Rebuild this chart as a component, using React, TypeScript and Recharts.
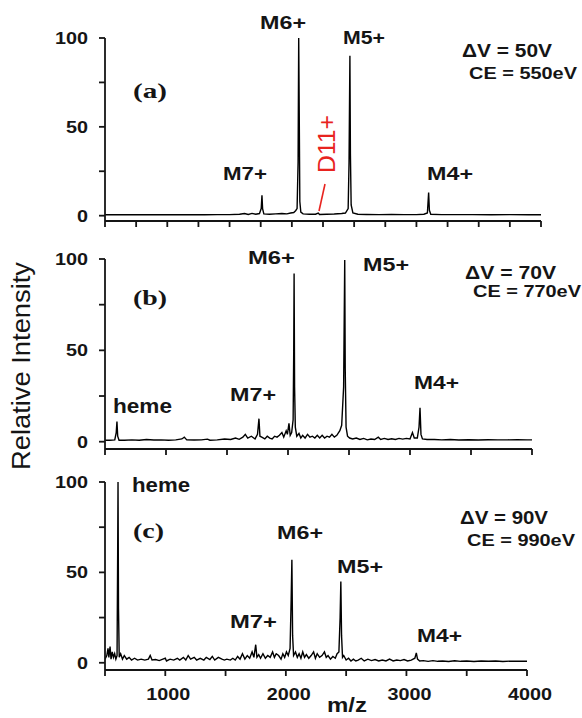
import React from 'react';
import { LineChart, Line, XAxis, YAxis } from 'recharts';

// ---------- Data ----------
const mzA = [500,560,620,700,800,900,1000,1100,1200,1300,1400,1500,1580,1620,1650,1680,1710,1740,1754,1760,1765,1775,1820,1870,1920,1960,1990,2015,2030,2042,2050,2055,2059,2064,2072,2090,2140,2190,2212,2222,2280,2340,2400,2430,2452,2459,2466,2470,2476,2490,2530,2600,2700,2800,2900,3000,3060,3088,3098,3104,3115,3200,3300,3450,3600,3750,3900,4000];
const intA = [0.5,0.5,0.6,0.5,0.6,0.5,0.6,0.5,0.6,0.5,0.6,0.6,0.8,1.2,0.7,1.3,0.8,1.2,4,11.5,4,1.0,0.8,1.0,1.2,1.0,1.5,1.8,2.8,4,30,100,60,8,2,1.0,0.8,0.8,1.5,0.7,0.8,0.9,1.2,1.5,4,30,90,35,6,1.5,0.8,0.7,0.6,0.7,0.6,0.6,0.8,1.5,13,3,0.8,0.6,0.6,0.6,0.5,0.6,0.5,0.5];

const mzB = [500,540,580,592,598,604,615,660,720,780,840,900,960,1020,1080,1130,1150,1170,1230,1290,1340,1360,1420,1480,1530,1570,1600,1630,1650,1670,1700,1730,1750,1762,1770,1785,1810,1830,1850,1870,1890,1910,1930,1950,1965,1985,1995,2008,2018,2030,2042,2047,2050,2054,2060,2072,2090,2105,2120,2140,2160,2180,2200,2220,2240,2260,2280,2300,2320,2340,2360,2380,2400,2425,2440,2456,2465,2469,2476,2488,2505,2530,2560,2590,2620,2650,2680,2710,2740,2760,2790,2820,2850,2880,2910,2940,2970,3000,3020,3035,3060,3074,3082,3090,3102,3140,3200,3260,3330,3400,3480,3560,3640,3720,3800,3880,3960,4000];
const intB = [0.8,0.8,1.0,5,11,3,0.8,0.8,1.0,0.8,1.2,0.9,1.0,0.8,1.0,1.5,2.5,1.0,0.9,1.0,1.4,0.8,1.0,1.5,1.2,2,1.3,2.5,4,2,3,1.5,4,12.6,3,2.5,1.5,3,2,1.5,3,2.5,3.5,5,2.5,6,4,10,3.5,5,12,50,92,30,8,3,4.5,2,3.5,2,4,2.5,3,2,3.5,2,3.5,2,3,2.5,4,2.5,3.5,6,9,30,99.5,40,8,3,2,1.5,2,1.2,1.8,1.0,1.5,1.2,2.5,1.2,1.8,1.2,1.6,1.2,1.8,1.4,1.8,1.5,5,2,2,8,18.6,4,1.5,1.2,1.2,1.0,1.2,0.9,1.1,0.9,1.1,1.0,1.0,1.1,1.0,1.0];

const mzC = [500,515,525,532,542,550,560,570,580,590,600,605,608,612,618,630,645,660,680,700,720,745,770,800,830,860,875,890,920,950,980,1000,1010,1040,1070,1100,1120,1150,1170,1190,1210,1240,1260,1290,1320,1340,1370,1390,1410,1440,1470,1490,1510,1540,1560,1580,1600,1620,1640,1660,1680,1700,1720,1735,1750,1760,1775,1790,1810,1830,1850,1870,1890,1905,1920,1940,1960,1975,1990,2005,2020,2035,2044,2050,2056,2064,2080,2095,2110,2125,2140,2155,2170,2190,2210,2230,2245,2260,2280,2300,2320,2335,2350,2370,2390,2410,2425,2440,2450,2456,2462,2470,2480,2500,2520,2540,2560,2580,2600,2625,2650,2680,2710,2740,2770,2800,2830,2860,2890,2920,2950,2980,3010,3040,3070,3082,3092,3110,3140,3180,3220,3260,3300,3350,3400,3450,3500,3560,3620,3680,3740,3800,3860,3920,3970,4000];
const intC = [2,4,8,3,9,2,6,3,5,2,4,60,100,30,3,5,2,4,2,3,1.5,2.5,1.5,2,1.5,2,4,1.5,1.8,1.2,2,2.5,1,2,1.5,2.5,1.5,3,1.5,4,2,3,1.5,2.5,1.5,3,1.8,3.5,1.5,3,2,1.5,2,1.5,2.5,1.5,3.5,2,5,2,4,2.5,6,3,10,3,4.5,2.5,5,2.5,4,3,6,3,5,4,2,5,3,6,4,8,35,57,15,4,6,3,5,2.5,6,3,4.5,2.5,4,6,2.5,5,3,4,6,3,4,2,3.5,2.5,5,6,25,45,15,3,4,1.5,2.5,1,2,1,1.5,2.5,1,2,1.2,1.8,1,1.5,1,2,1,1.5,1.2,1.8,1,1.5,2.5,5.5,2,1,1.2,0.8,1.2,0.8,1,0.7,1.1,0.8,1,0.7,1,0.8,1,0.7,0.9,0.8,0.9,0.8];

const yTicks = [0, 25, 50, 75, 100];
const yLabels = [0, 50, 100];
const xTicksA = [500,750,1000,1250,1500,1750,2000,2250,2500,2750,3000,3250,3500,3750,4000];
const xTicksBC = [500,1000,1500,2000,2500,3000,3500,4000];
const xLabelsC = [1000, 2000, 3000, 4000];

const SANS = "'Liberation Sans', Arial, Helvetica, sans-serif";
const SERIF = "'Liberation Serif', 'Times New Roman', serif";
const INK = '#151515';

const TICK = 6;      // tick mark length
const Y_GAP = 11;    // gap between y tick mark and label
const X_GAP = 12;    // gap between x tick mark and label

const build = (mz: number[], v: number[]) => mz.map((m, i) => ({ mz: m, v: v[i] }));

const YTick = (props: any) => {
  const { x, y, payload } = props;
  const val = payload.value;
  const s = String(val);
  return (
    <g>
      <line x1={x + Y_GAP} y1={y} x2={x + Y_GAP + TICK} y2={y} stroke={INK} strokeWidth={1.8} />
      {yLabels.includes(val) && (
        <text x={x} y={y} dy="0.36em" textAnchor="end" fontFamily={SANS} fontWeight="bold" fontSize={16.5}
          fill={INK} textLength={s.length * 11} lengthAdjust="spacingAndGlyphs">{s}</text>
      )}
    </g>
  );
};

const makeXTick = (labels: boolean) => (props: any) => {
  const { x, y, payload } = props;
  const val = payload.value;
  const s = String(val);
  return (
    <g>
      <line x1={x} y1={y - X_GAP - TICK} x2={x} y2={y - X_GAP} stroke={INK} strokeWidth={1.8} />
      {labels && xLabelsC.includes(val) && (
        <text x={x + 3} y={y} dy="0.71em" textAnchor="middle" fontFamily={SANS} fontWeight="bold" fontSize={16.5}
          fill={INK} textLength={s.length * 11} lengthAdjust="spacingAndGlyphs">{s}</text>
      )}
    </g>
  );
};

type PanelProps = {
  mz: number[]; v: number[]; top: number; height: number; marginTop: number; right: number;
  yMin: number; xTicks: number[]; xAxisHeight: number; labels: boolean;
};

const Panel = ({ mz, v, top, height, marginTop, right, yMin, xTicks, xAxisHeight, labels }: PanelProps) => (
  <div style={{ position: 'absolute', left: 0, top, width: 582, height }}>
    <LineChart width={582} height={height} data={build(mz, v)}
      margin={{ top: marginTop, right, left: 0, bottom: 0 }}>
      <XAxis dataKey="mz" type="number" domain={[500, 4000]} ticks={xTicks} interval={0}
        height={xAxisHeight} tickSize={TICK} tickMargin={X_GAP}
        axisLine={{ stroke: INK, strokeWidth: 1.8 }} tickLine={false}
        tick={makeXTick(labels)} allowDataOverflow />
      <YAxis type="number" domain={[yMin, 100]} ticks={yTicks} interval={0} width={105}
        tickSize={TICK} tickMargin={Y_GAP}
        axisLine={{ stroke: INK, strokeWidth: 1.8 }} tickLine={false}
        tick={YTick} allowDataOverflow />
      <Line type="linear" dataKey="v" stroke="#000" strokeWidth={1.4} dot={false}
        isAnimationActive={false} />
    </LineChart>
  </div>
);

const T = ({ x, y, w, size = 19, children, serif = false, weight = 'bold', anchor = 'start' }: any) => (
  <text x={x} y={y} fontFamily={serif ? SERIF : SANS} fontWeight={weight} fontSize={size} fill={INK}
    textAnchor={anchor} textLength={w} lengthAdjust="spacingAndGlyphs">{children}</text>
);

export default function App() {
  return (
    <div style={{ position: 'absolute', left: 0, top: 0, width: 582, height: 718, background: '#fff', overflow: 'hidden' }}>
      <Panel mz={mzA} v={intA} top={0} height={230} marginTop={38} right={41} yMin={-3}
        xTicks={xTicksA} xAxisHeight={9} labels={false} />
      <Panel mz={mzB} v={intB} top={230} height={228} marginTop={29} right={50} yMin={-4}
        xTicks={xTicksBC} xAxisHeight={9} labels={false} />
      <Panel mz={mzC} v={intC} top={458} height={260} marginTop={24} right={55} yMin={-4}
        xTicks={xTicksBC} xAxisHeight={48} labels={true} />
      <svg width={582} height={718} style={{ position: 'absolute', left: 0, top: 0, pointerEvents: 'none' }}>
        {/* axis titles */}
        <text transform="translate(30,366) rotate(-90)" textAnchor="middle" fontFamily={SANS} fontSize={26}
          fill={INK} textLength={208} lengthAdjust="spacingAndGlyphs">Relative Intensity</text>
        <T x={347} y={712} w={40} size={20} anchor="middle">m/z</T>

        {/* panel a */}
        <T x={260} y={29} w={46}>M6+</T>
        <T x={343} y={44} w={42}>M5+</T>
        <T x={223} y={180} w={44}>M7+</T>
        <T x={427} y={180} w={46}>M4+</T>
        <T x={462} y={57} w={90} size={18}>ΔV = 50V</T>
        <T x={469} y={79} w={108} size={17}>CE = 550eV</T>
        <T x={133} y={98} w={34} size={22} serif>(a)</T>
        <text transform="translate(335,144) rotate(-90)" textAnchor="middle" fontFamily={SANS} fontSize={24}
          fill="#e8231f" textLength={58} lengthAdjust="spacingAndGlyphs">D11+</text>
        <line x1={319} y1={211} x2={325} y2={184} stroke="#e8231f" strokeWidth={1.6} />

        {/* panel b */}
        <T x={248} y={264} w={47}>M6+</T>
        <T x={363} y={271} w={46}>M5+</T>
        <T x={230} y={401} w={46}>M7+</T>
        <T x={414} y={389} w={45}>M4+</T>
        <T x={113} y={413} w={59} size={20}>heme</T>
        <T x={465} y={279} w={91} size={18}>ΔV = 70V</T>
        <T x={473} y={297} w={108} size={17}>CE = 770eV</T>
        <T x={133} y={305} w={34} size={22} serif>(b)</T>

        {/* panel c */}
        <T x={132} y={492} w={58} size={20}>heme</T>
        <T x={133} y={538} w={31} size={22} serif>(c)</T>
        <T x={277} y={539} w={46}>M6+</T>
        <T x={337} y={573} w={46}>M5+</T>
        <T x={230} y={628} w={47}>M7+</T>
        <T x={417} y={642} w={45}>M4+</T>
        <T x={460} y={524} w={88} size={18}>ΔV = 90V</T>
        <T x={467} y={546} w={108} size={17}>CE = 990eV</T>
      </svg>
    </div>
  );
}
